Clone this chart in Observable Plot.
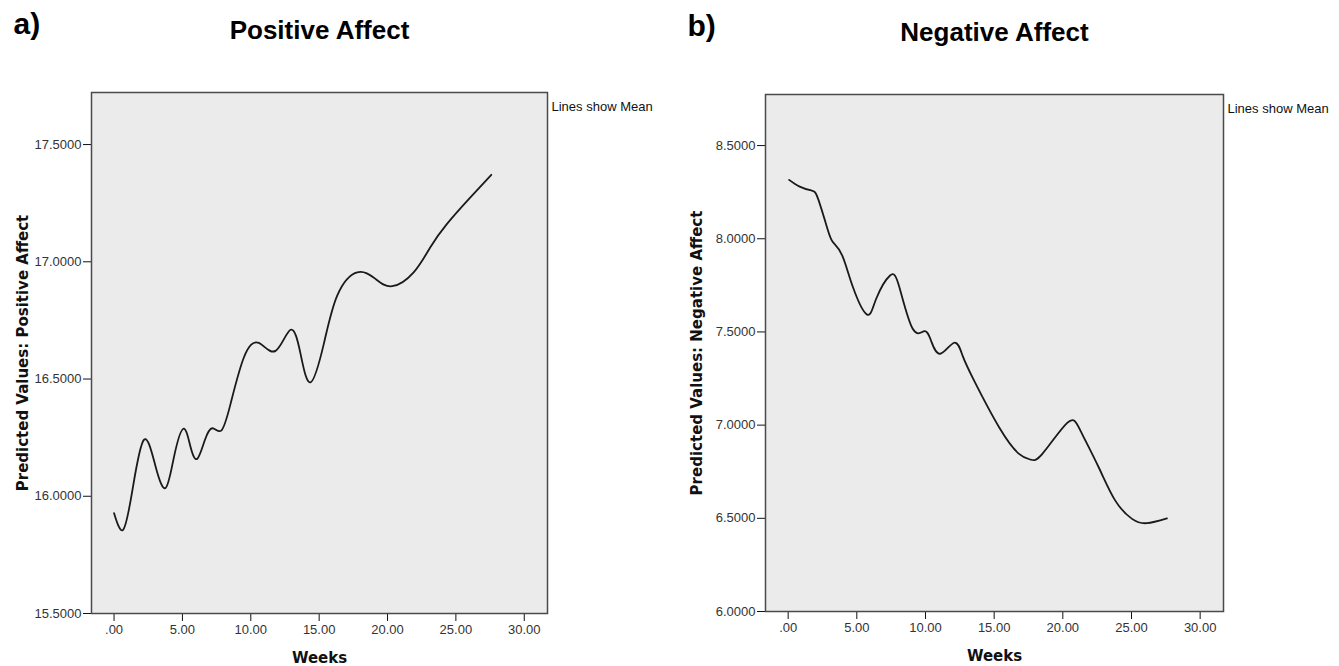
<!DOCTYPE html>
<html>
<head>
<meta charset="utf-8">
<script src="https://cdn.jsdelivr.net/npm/d3@7"></script>
<script src="https://cdn.jsdelivr.net/npm/@observablehq/plot@0.6"></script>
<style>
  html, body { margin: 0; padding: 0; background: #fff; }
  #wrap { position: relative; width: 1339px; height: 666px; overflow: hidden; }
  #wrap > div { position: absolute; top: 0; }
</style>
</head>
<body>
<div id="wrap"><div id="left"></div><div id="right"></div></div>
<script>
// ---- data ----
const weeksPA  = [0, 0.66, 1.34, 2.19, 3.05, 3.78, 4.38, 5.07, 5.6, 6.09, 6.63, 7.19, 7.84, 8.52, 9.5, 10.59, 11.81, 12.91, 13.64, 14.37, 15.34, 16.32, 17.78, 19.12, 20.34, 21.91, 23.13, 24.35, 26.06, 27.59];
const valuesPA = [15.928, 15.857, 16.025, 16.241, 16.124, 16.036, 16.167, 16.288, 16.209, 16.160, 16.238, 16.29, 16.28, 16.394, 16.593, 16.654, 16.62, 16.71, 16.607, 16.486, 16.65, 16.856, 16.955, 16.927, 16.896, 16.955, 17.062, 17.162, 17.275, 17.371];

const weeksNA  = [0.07, 0.84, 1.69, 2.18, 2.9, 3.27, 3.94, 4.72, 5.75, 6.41, 7.42, 8.1, 9.07, 9.92, 10.4, 11.08, 12.09, 12.7, 13.54, 15.36, 16.81, 17.66, 18.51, 20.32, 21.28, 22.61, 23.82, 25.04, 26.12, 27.58];
const valuesNA = [8.316, 8.280, 8.259, 8.214, 8.044, 7.981, 7.91, 7.74, 7.593, 7.678, 7.803, 7.74, 7.517, 7.504, 7.454, 7.383, 7.442, 7.373, 7.239, 6.989, 6.846, 6.815, 6.846, 7.012, 6.971, 6.774, 6.595, 6.497, 6.474, 6.50];

const xTicks   = [0, 5, 10, 15, 20, 25, 30];
const yTicksPA = [15.5, 16.0, 16.5, 17.0, 17.5];
const yTicksNA = [6.0, 6.5, 7.0, 7.5, 8.0, 8.5];

const panels = [
  {id: "left",  letter: "a)", title: "Positive Affect", ylabel: "Predicted Values: Positive Affect",
   weeks: weeksPA, values: valuesPA, yTicks: yTicksPA, yDomain: [15.5, 17.722]},
  {id: "right", letter: "b)", title: "Negative Affect", ylabel: "Predicted Values: Negative Affect",
   weeks: weeksNA, values: valuesNA, yTicks: yTicksNA, yDomain: [6.0, 8.774]}
];

const layout = {
  left:  {left: 0,   width: 660, mL: 91, mR: 113, mT: 92, mB: 53},
  right: {left: 670, width: 669, mL: 95, mR: 116, mT: 94, mB: 55}
};

const sans = "'Liberation Sans', Arial, sans-serif";
const dv = "'DejaVu Sans', Verdana, sans-serif";
const xFmt = d => d === 0 ? ".00" : d.toFixed(2);
const yFmt = d => d.toFixed(4);

for (const p of panels) {
  const L = layout[p.id];
  const data = p.weeks.map((w, i) => ({week: w, value: p.values[i]}));
  const chart = Plot.plot({
    width: L.width, height: 666,
    marginLeft: L.mL, marginRight: L.mR, marginTop: L.mT, marginBottom: L.mB,
    style: {fontFamily: sans, fontSize: "13px", background: "transparent", overflow: "visible"},
    x: {domain: [-1.65, 31.7]},
    y: {domain: p.yDomain},
    marks: [
      Plot.frame({fill: "#ebebeb", stroke: "none"}),
      Plot.axisX({ticks: xTicks, tickFormat: xFmt, tickSize: 8, tickPadding: 3, stroke: "#111", fill: "#333", fontSize: 13, label: null}),
      Plot.axisY({ticks: p.yTicks, tickFormat: yFmt, tickSize: 8, tickPadding: 2, stroke: "#111", fill: "#333", fontSize: 13, label: null}),
      Plot.line(data, {x: "week", y: "value", curve: "natural", stroke: "#1a1a1a", strokeWidth: 1.8}),
      Plot.frame({stroke: "#4a4a4a", strokeWidth: 1.5}),
      Plot.text([p.title], {frameAnchor: "top", dy: -54, lineAnchor: "bottom", text: d => d, fontFamily: sans, fontWeight: "bold", fontSize: 26, fill: "#000"}),
      Plot.text([p.letter], {frameAnchor: "top-left", dx: -78, dy: -59, textAnchor: "start", lineAnchor: "bottom", text: d => d, fontFamily: sans, fontWeight: "bold", fontSize: 30, fill: "#000"}),
      Plot.text(["Lines show Mean"], {frameAnchor: "top-right", dx: 4, dy: 18, textAnchor: "start", lineAnchor: "bottom", text: d => d, fontFamily: sans, fontSize: 13, fill: "#111"}),
      Plot.text(["Weeks"], {frameAnchor: "bottom", dy: 45, lineAnchor: "middle", text: d => d, fontFamily: dv, fontWeight: "bold", fontSize: 15, fill: "#111"}),
      Plot.text([p.ylabel], {frameAnchor: "left", dx: -68, rotate: -90, lineAnchor: "middle", textAnchor: "middle", text: d => d, fontFamily: dv, fontWeight: "bold", fontSize: 15, fill: "#111"})
    ]
  });
  const host = document.getElementById(p.id);
  host.style.left = L.left + "px";
  host.appendChild(chart);
}
</script>
</body>
</html>
